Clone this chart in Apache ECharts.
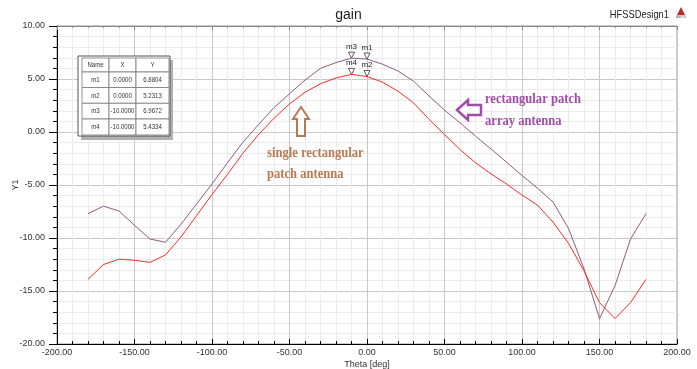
<!DOCTYPE html>
<html>
<head>
<meta charset="utf-8">
<script src="https://cdn.jsdelivr.net/npm/echarts@6/dist/echarts.min.js"></script>
<style>
  html, body { margin: 0; padding: 0; background: #fff; }
  #chart { width: 697px; height: 369px; }
</style>
</head>
<body>
<div id="chart"></div>
<script>
// theta sweep (deg)
var theta = [-180, -170, -160, -150, -140, -130, -120, -110, -100, -90, -80, -70, -60, -50, -40, -30, -20, -10,
  0, 10, 20, 30, 40, 50, 60, 70, 80, 90, 100, 110, 120, 130, 140, 150, 160, 170, 180];

// rectangular patch array antenna
var arrayGain = [-7.7, -7.0, -7.45, -8.8, -10.1, -10.4, -8.7, -6.8, -4.9, -2.9, -0.96, 0.7, 2.3, 3.6, 4.9, 6.0, 6.55, 6.9672,
  6.8804, 6.4, 5.75, 4.8, 3.4, 2.06, 0.87, -0.39, -1.6, -2.85, -4.1, -5.3, -6.6, -9.1, -12.9, -17.6, -14.5, -10.1, -7.7];

// single rectangular patch antenna
var singleGain = [-13.9, -12.5, -12.0, -12.1, -12.3, -11.6, -9.9, -7.9, -5.9, -4.0, -2.0, -0.25, 1.3, 2.65, 3.75, 4.55, 5.1, 5.4334,
  5.2313, 4.7, 3.85, 2.75, 1.2, -0.24, -1.65, -2.9, -3.95, -4.9, -5.95, -6.9, -8.5, -10.5, -13.1, -16.1, -17.6, -16.1, -13.9];

// markers
var markNames = ['m1', 'm2', 'm3', 'm4'];
var markTheta = [0, 0, -10, -10];
var markGain = [6.8804, 5.2313, 6.9672, 5.4334];
var markSeries = [0, 1, 0, 1];

var narrow = "'Liberation Sans Narrow', 'Liberation Sans', Arial, sans-serif";
var serif = "'Liberation Serif', 'DejaVu Serif', serif";

function pairs(vals) {
  return theta.map(function (t, i) { return [t, vals[i]]; });
}

function marks(s) {
  var out = [];
  markNames.forEach(function (n, i) {
    if (markSeries[i] === s) out.push({ name: n, coord: [markTheta[i], markGain[i]] });
  });
  return out;
}

var markPointStyle = function (s) {
  return {
    symbol: 'triangle',
    symbolRotate: 180,
    symbolSize: [6, 6],
    symbolOffset: [0, -3],
    itemStyle: { color: '#fff', borderColor: '#333', borderWidth: 0.8 },
    label: { show: true, position: 'top', distance: 1, formatter: '{b}', fontSize: 8, color: '#222', fontFamily: narrow },
    data: marks(s)
  };
};

// table built as graphic elements
var tbl = [];
var colX = [82, 109, 136, 169];
var rowY = [58, 72, 87.5, 103.3, 119, 135];
var header = ['Name', 'X', 'Y'];
tbl.push({ type: 'rect', shape: { x: 81, y: 60, width: 92, height: 80 }, style: { fill: '#b0b0b0' }, z: 10 });
tbl.push({ type: 'rect', shape: { x: 78, y: 56, width: 92, height: 80 }, style: { fill: '#fff', stroke: '#555', lineWidth: 1 }, z: 11 });
for (var r = 0; r < 5; r++) {
  for (var c = 0; c < 3; c++) {
    var txt;
    if (r === 0) txt = header[c];
    else if (c === 0) txt = markNames[r - 1];
    else if (c === 1) txt = markTheta[r - 1].toFixed(4);
    else txt = markGain[r - 1].toFixed(4);
    tbl.push({
      type: 'rect', z: 12,
      shape: { x: colX[c], y: rowY[r], width: colX[c + 1] - colX[c], height: rowY[r + 1] - rowY[r] },
      style: { fill: '#fff', stroke: '#777', lineWidth: 0.8 }
    });
    tbl.push({
      type: 'text', z: 13, scaleX: 0.76,
      x: (colX[c] + colX[c + 1]) / 2, y: (rowY[r] + rowY[r + 1]) / 2,
      style: { text: txt, fontSize: 8, fontFamily: narrow, fill: '#333', align: 'center', verticalAlign: 'middle' }
    });
  }
}

function note(x, y, text, color) {
  return { type: 'text', z: 20, x: x, y: y, scaleX: 0.84,
    style: { text: text, fontSize: 15, fontWeight: 'bold', fontFamily: serif, fill: color, verticalAlign: 'middle' } };
}

var chart = echarts.init(document.getElementById('chart'));
chart.setOption({
  backgroundColor: '#fff',
  animation: false,
  title: {
    text: 'gain', left: 'center', top: 3,
    textStyle: { fontSize: 14, fontWeight: 'normal', color: '#222', fontFamily: "'Liberation Sans', Arial, sans-serif" }
  },
  grid: { left: 57, right: 20, top: 26, bottom: 25, show: true, borderColor: '#999', borderWidth: 1,
    outerBoundsMode: 'none', containLabel: false },
  xAxis: [{
    type: 'value', min: -200, max: 200, interval: 50,
    name: 'Theta [deg]', nameLocation: 'middle', nameGap: 16, nameMoveOverlap: false,
    nameTextStyle: { fontSize: 9, color: '#333', fontFamily: narrow },
    axisLine: { onZero: false, lineStyle: { color: '#000', width: 1 } },
    axisTick: { inside: true, length: 5, lineStyle: { color: '#000' } },
    minorTick: { show: true, splitNumber: 5, length: 3, lineStyle: { color: '#000' } },
    axisLabel: { fontSize: 9, color: '#333', fontFamily: narrow, margin: 4,
      formatter: function (v) { return v.toFixed(2); } },
    splitLine: { lineStyle: { color: '#c8c8c8' } },
    minorSplitLine: { show: true, lineStyle: { color: '#ececec' } }
  }, {
    type: 'value', min: -200, max: 200, interval: 50, position: 'top',
    axisLine: { onZero: false, lineStyle: { color: '#888' } },
    axisTick: { inside: true, length: 4, lineStyle: { color: '#888' } },
    minorTick: { show: true, splitNumber: 5, length: 2, lineStyle: { color: '#888' } },
    axisLabel: { show: false },
    splitLine: { show: false }
  }],
  yAxis: {
    type: 'value', min: -20, max: 10, interval: 5,
    name: 'Y1', nameLocation: 'middle', nameGap: 37, nameMoveOverlap: false,
    nameTextStyle: { fontSize: 9, color: '#333', fontFamily: narrow },
    axisLine: { show: true, onZero: false, lineStyle: { color: '#000', width: 1 } },
    axisTick: { show: true, length: 8, lineStyle: { color: '#000' } },
    minorTick: { show: true, splitNumber: 5, length: 4, lineStyle: { color: '#000' } },
    axisLabel: { fontSize: 9, color: '#333', fontFamily: narrow, margin: 12,
      formatter: function (v) { return v.toFixed(2); } },
    splitLine: { lineStyle: { color: '#c8c8c8' } },
    minorSplitLine: { show: true, lineStyle: { color: '#ececec' } }
  },
  series: [{
    name: 'rectangular patch array antenna',
    type: 'line', data: pairs(arrayGain), showSymbol: false,
    lineStyle: { color: '#8c5c82', width: 1 }, itemStyle: { color: '#8c5c82' },
    markPoint: markPointStyle(0)
  }, {
    name: 'single rectangular patch antenna',
    type: 'line', data: pairs(singleGain), showSymbol: false,
    lineStyle: { color: '#ff2a2a', width: 1 }, itemStyle: { color: '#ff2a2a' },
    markPoint: markPointStyle(1)
  }],
  graphic: tbl.concat([
    { type: 'text', x: 669, y: 15, scaleX: 0.85,
      style: { text: 'HFSSDesign1', fontSize: 11, fontFamily: narrow, fill: '#222', align: 'right', verticalAlign: 'middle' } },
    { type: 'polygon', shape: { points: [[681, 7], [685, 15], [677, 15]] }, style: { fill: '#c0282d' } },
    { type: 'text', x: 681, y: 16, style: { text: 'ANSYS', fontSize: 3, fill: '#555', align: 'center' } },
    // purple note
    { type: 'polygon', z: 20,
      shape: { points: [[457, 110], [468, 100], [468, 105], [481, 105], [481, 115], [468, 115], [468, 120]] },
      style: { fill: '#fff', stroke: '#a24ca8', lineWidth: 2.5 } },
    note(485, 99, 'rectangular patch', '#a24ca8'),
    note(485, 121, 'array antenna', '#a24ca8'),
    // brown note
    { type: 'polygon', z: 20,
      shape: { points: [[301, 107], [309, 119], [305, 119], [305, 136], [297, 136], [297, 119], [293, 119]] },
      style: { fill: '#fff', stroke: '#b97a52', lineWidth: 2 } },
    note(267, 153, 'single rectangular', '#b97a52'),
    note(267, 174, 'patch antenna', '#b97a52')
  ])
});
</script>
</body>
</html>
